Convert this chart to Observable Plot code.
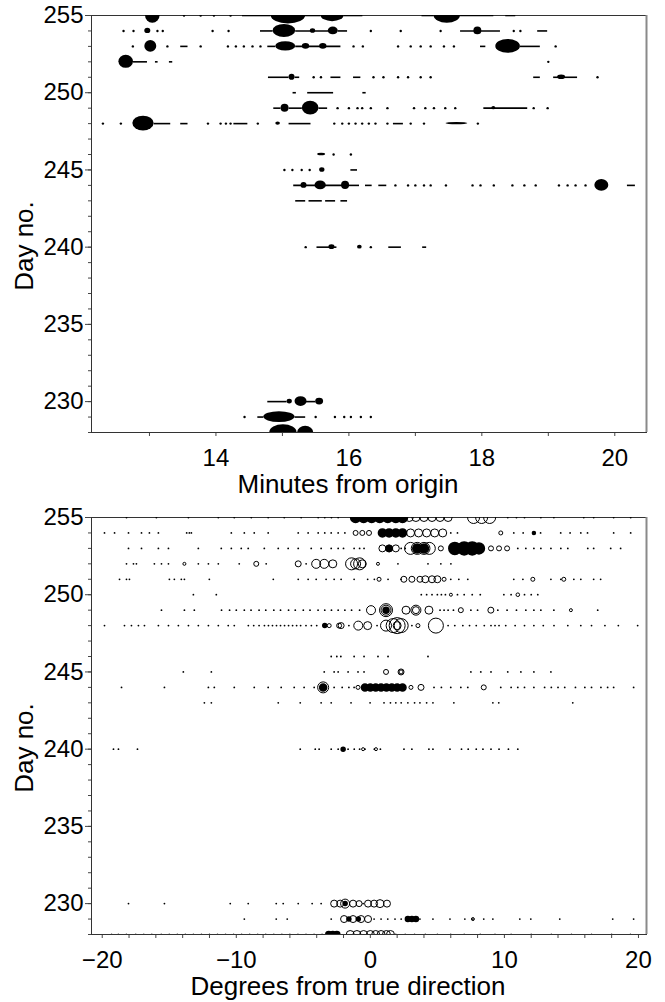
<!DOCTYPE html>
<html><head><meta charset="utf-8">
<script src="https://cdn.jsdelivr.net/npm/d3@7"></script>
<script src="https://cdn.jsdelivr.net/npm/@observablehq/plot@0.6"></script>
<style>
html,body{margin:0;padding:0;background:#fff;}
#chart svg{display:block;}
</style></head><body><div id="chart"></div>
<script>
// ---------- Top panel: Minutes from origin ----------
const topXDomain = [12.128, 20.477];
const dayDomain = [228, 255];
const topXTicks = [13, 14, 15, 16, 17, 18, 19, 20];
const dayMajorTicks = [230, 235, 240, 245, 250, 255];
const dayMinorTicks = d3.range(228, 256);

// blobs: [day, start minute, end minute, half thickness (days)]
const topBlobs = [
  [255, 12.94, 13.16, 0.5], [255, 14.83, 15.35, 0.55], [255, 15.58, 15.93, 0.4], [255, 17.28, 17.68, 0.5],
  [254, 12.93, 13.02, 0.17], [254, 14.86, 15.2, 0.42], [254, 15.42, 15.5, 0.15], [254, 15.69, 15.84, 0.25], [254, 17.88, 18.0, 0.25],
  [253, 12.93, 13.11, 0.38], [253, 14.9, 15.2, 0.3], [253, 15.3, 15.41, 0.18], [253, 15.56, 15.67, 0.18], [253, 18.21, 18.58, 0.45],
  [252, 12.54, 12.76, 0.42],
  [251, 15.1, 15.19, 0.2], [251, 19.14, 19.26, 0.15],
  [249, 14.98, 15.1, 0.26], [249, 15.3, 15.55, 0.45], [249, 18.15, 18.21, 0.1],
  [248, 12.75, 13.07, 0.48], [248, 14.9, 14.97, 0.1], [248, 17.46, 17.79, 0.08],
  [246, 15.53, 15.65, 0.08],
  [245, 15.56, 15.64, 0.15],
  [244, 15.28, 15.37, 0.19], [244, 15.49, 15.66, 0.28], [244, 15.89, 16.01, 0.26], [244, 19.7, 19.91, 0.38],
  [240, 15.7, 15.79, 0.15], [240, 16.13, 16.2, 0.12],
  [230, 15.07, 15.15, 0.16], [230, 15.19, 15.37, 0.32], [230, 15.5, 15.62, 0.22],
  [229, 14.72, 15.19, 0.35],
  [228, 14.81, 15.22, 0.5], [228, 15.23, 15.47, 0.4]
];
// tracks: [day, start minute, end minute]
const topLines = [
  [255, 14.4, 14.83], [255, 15.32, 15.58], [255, 15.93, 16.21], [255, 17.1, 17.28], [255, 17.68, 18.18], [255, 18.36, 18.51],
  [254, 14.67, 14.86], [254, 15.2, 15.7], [254, 15.84, 15.98], [254, 17.68, 18.28], [254, 18.84, 18.99],
  [253, 13.47, 13.58], [253, 14.78, 14.9], [253, 15.2, 15.88], [253, 17.98, 18.06], [253, 18.58, 18.88],
  [252, 12.76, 12.97], [252, 13.09, 13.13], [252, 13.3, 13.35],
  [251, 14.79, 15.1], [251, 15.19, 15.26], [251, 15.73, 15.88], [251, 16.07, 16.18], [251, 18.78, 18.88], [251, 19.08, 19.44],
  [250, 15.16, 15.21], [250, 15.38, 15.77], [250, 16.21, 16.26],
  [249, 14.87, 14.98], [249, 15.1, 15.3], [249, 15.55, 15.68], [249, 18.03, 18.69],
  [248, 13.07, 13.32], [248, 13.47, 13.58], [248, 14.27, 14.48], [248, 15.1, 15.43], [248, 16.67, 16.82],
  [245, 16.03, 16.13],
  [244, 15.17, 15.95], [244, 15.95, 16.16], [244, 16.25, 16.35], [244, 16.45, 16.57], [244, 20.19, 20.31],
  [243, 15.2, 15.35], [243, 15.4, 15.6], [243, 15.65, 15.8], [243, 15.88, 15.98],
  [240, 15.52, 15.82], [240, 16.6, 16.79], [240, 17.11, 17.17],
  [230, 14.78, 15.07], [230, 15.35, 15.5],
  [229, 14.63, 14.72], [229, 15.19, 15.35]
];
// single detections: [day, [minutes]]
const topDots = [
  [255, [13.52, 13.77, 13.97, 14.22]],
  [254, [12.61, 12.76, 13.12, 13.2, 13.95, 14.19, 16.33, 16.78, 17.38, 18.48, 18.58]],
  [253, [12.75, 13.27, 13.77, 14.18, 14.3, 14.42, 14.55, 14.67, 16.07, 16.21, 16.74, 16.93, 17.08, 17.23, 17.43, 17.58, 19.11]],
  [252, [19.0]],
  [251, [15.47, 15.58, 16.37, 16.52, 16.74, 16.89, 17.08, 17.23, 19.74]],
  [249, [15.83, 16.0, 16.13, 16.2, 16.33, 16.58, 16.98, 17.15, 17.28, 17.45, 17.6, 18.78, 18.99]],
  [248, [12.3, 12.57, 13.88, 14.07, 14.15, 14.22, 14.63, 15.78, 15.9, 16.0, 16.1, 16.2, 16.3, 16.4, 16.58, 16.93, 17.13, 17.94]],
  [246, [15.77, 16.03]],
  [245, [15.03, 15.15, 15.29, 15.41]],
  [244, [16.7, 16.89, 17.0, 17.13, 17.23, 17.46, 17.86, 17.98, 18.18, 18.46, 18.64, 18.81, 19.16, 19.29, 19.41, 19.56]],
  [240, [15.35, 16.33]],
  [229, [14.43, 15.5, 15.79, 15.93, 16.03, 16.18, 16.33]]
];

// ---------- Bottom panel: Degrees from true direction ----------
const botXDomain = [-20.8, 20.6];
const botXTicks = d3.range(-20, 21, 2);

// single detections: [day, [degrees]]
const botDots = [
  [255, [-18.19, -15.96, -13.57, -11.34, -10.15, -8.88, -7.62, -6.42, -5.16, -3.89, -3.4, -2.9, -2.4, 10.25, 10.9, 11.5, 12.72, 13.69, 15.92, 16.66, 18.15, 19.42]],
  [254, [-19.83, -19.08, -18.04, -17.07, -16.48, -15.81, -13.7, -13.5, -13.35, -10.37, -9.4, -8.66, -7.62, -5.38, -4.64, -3.89, -3.4, -2.92, -2.4, -1.9, 6.0, 6.5, 10.7, 11.4, 12.7, 14.2, 14.9, 15.7, 16.2, 18.15, 19.42]],
  [253, [-18.04, -17.07, -15.81, -15.06, -12.83, -11.12, -10.37, -9.63, -9.11, -7.91, -6.87, -6.13, -5.38, -4.41, -3.67, -2.92, -2.4, -2.0, -1.21, -0.8, -0.47, 2.3, 2.6, 11.0, 11.6, 12.2, 12.72, 13.47, 14.21, 14.73, 16.22, 16.66, 17.93, 18.67]],
  [252, [-18.19, -17.67, -17.45, -16.11, -15.58, -15.06, -12.83, -12.08, -11.34, -9.78, -7.77, -4.79, 2.06, 4.3, 5.26, 6.01]],
  [251, [-18.71, -18.19, -17.97, -14.99, -14.62, -14.1, -13.87, -12.01, -7.24, -5.38, -4.64, -4.04, -3.3, -2.7, -2.18, -1.21, -0.2, 0.3, 1.32, 2.29, 6.0, 6.6, 7.27, 10.7, 11.38, 13.47, 14.21, 15.18, 15.7, 16.66, 17.18]],
  [250, [-13.2, -11.49, 3.8, 4.2, 4.6, 5.0, 5.3, 5.6, 6.5, 7.0, 7.6, 8.2, 9.96, 10.5, 11.5, 12.0, 12.49]],
  [249, [-15.58, -13.87, -13.13, -11.1, -10.5, -10.0, -9.4, -8.9, -8.3, -7.8, -7.2, -6.7, -6.1, -5.6, -5.0, -4.5, -3.9, -3.4, -2.9, -2.4, -1.9, -1.4, -0.8, 5.2, 5.5, 5.8, 6.2, 7.5, 8.0, 9.51, 10.2, 10.9, 11.6, 12.2, 12.72, 13.69, 16.96]],
  [248, [-19.83, -18.34, -17.82, -17.3, -16.85, -15.81, -15.06, -14.32, -13.57, -12.83, -12.08, -11.34, -10.6, -10.15, -9.1, -8.7, -8.3, -7.9, -7.6, -7.3, -7.0, -6.7, -6.4, -6.1, -5.8, -5.5, -5.2, -4.8, -4.4, -4.0, -3.5, -1.6, 0.5, 3.1, 5.8, 6.3, 6.9, 7.4, 7.9, 8.5, 9.0, 9.3, 9.6, 10.1, 10.8, 11.5, 12.2, 12.9, 13.7, 14.73, 15.7, 16.5, 17.5, 18.5, 19.94]],
  [246, [-2.92, -2.5, -2.2, -1.21, -0.47, 0.57, 1.32, 4.3]],
  [245, [-13.95, -11.86, -3.44, -2.7, -2.4, -1.66, -0.92, -0.47, 7.5, 8.24, 9.0, 10.25, 11.23, 12.2, 13.47]],
  [244, [-18.56, -15.36, -12.08, -11.64, -10.15, -8.66, -7.62, -6.65, -5.68, -4.94, -4.19, -2.7, -2.1, -1.6, -1.21, 4.75, 5.3, 6.0, 6.75, 7.27, 9.73, 10.5, 11.0, 11.5, 12.2, 13.0, 13.5, 14.0, 14.5, 15.3, 16.0, 16.5, 17.2, 17.7, 18.15, 19.64]],
  [243, [-12.38, -11.86, -6.87, -5.23, -3.67, -2.92, -1.44, -0.02, 1.02, 1.5, 1.9, 2.3, 2.8, 3.3, 3.7, 4.2, 4.67, 6.23, 9.14, 9.58, 15.1]],
  [240, [-19.16, -18.79, -17.37, -5.23, -4.11, -3.82, -2.92, -2.4, -1.66, -1.2, -0.8, -0.4, 0.3, 0.75, 2.51, 3.1, 4.37, 4.67, 5.94, 6.8, 7.3, 7.9, 8.4, 9.0, 9.6, 10.3, 11.0]],
  [230, [-18.04, -15.36, -10.45, -9.11, -7.02, -6.5, -5.38, -4.34, -3.67, -0.54]],
  [229, [-9.4, -7.02, -6.2, -2.92, 0.28, 0.8, 1.3, 1.84, 2.3, 3.7, 4.67, 5.94, 7.05, 7.65, 8.46, 9.14, 11.15, 11.97, 14.13, 18.08, 19.64]],
  [228, [-19.3, -18.8, -18.2, -17.5, -16.9, -16.3, -15.6, -15.0, -14.4, -13.8, -13.2, -12.6, -12.0, -11.4, -10.8, -10.2, -9.6, -9.0, -8.4, -7.8, -7.2, -6.6, -6.0, -5.4, -4.8, -4.2, -3.6, 1.9, 2.6, 3.3, 4.1, 5.0, 6.0, 7.0, 8.2, 9.3, 10.5, 12.0, 13.5, 15.0, 16.5, 18.0, 19.4]]
];
// open rings: [day, [[degree, strength]]]
const botRings = [
  [255, [[2.9, 4], [3.4, 4], [4.0, 4], [4.6, 4], [5.2, 4], [5.8, 4], [7.7, 6], [8.3, 6], [8.9, 6]]],
  [254, [[-1.1, 2.5], [-0.6, 2.5], [-0.1, 2.5], [3.0, 4], [3.6, 4], [4.2, 4], [4.8, 4], [5.4, 4], [9.73, 2]]],
  [253, [[0.9, 3.5], [1.4, 3.5], [1.9, 3.5], [3.0, 6], [3.5, 6], [4.0, 6], [4.4, 6], [5.26, 2.5], [9.0, 2.5], [9.6, 2.5], [10.2, 2.5]]],
  [252, [[-13.87, 1.5], [-8.51, 2.5], [-5.38, 3], [-4.04, 4.5], [-3.44, 4.5], [-2.8, 4], [-1.4, 6], [-1.1, 5], [-0.8, 6], [-0.6, 4], [0.57, 1.5]]],
  [251, [[0.65, 2], [2.5, 3], [3.1, 3], [3.7, 3], [4.1, 3.5], [4.6, 3.5], [5.0, 3.5], [5.5, 2], [12.12, 2], [14.43, 2]]],
  [250, [[6.01, 1.5], [11.0, 1.8]]],
  [249, [[0.05, 4.5], [1.17, 6.5], [1.17, 5], [2.66, 4], [3.4, 5], [3.4, 3.5], [4.37, 4], [6.75, 2.5], [8.99, 3], [14.96, 1.5]]],
  [248, [[-3.07, 2], [-2.33, 2.5], [-2.18, 3], [-0.9, 4.5], [-0.2, 4], [1.17, 5.5], [1.7, 7], [2.0, 8], [2.3, 7], [2.0, 4], [3.55, 2], [4.89, 7.5]]],
  [245, [[1.17, 2.5], [2.29, 3], [2.29, 2]]],
  [244, [[-3.52, 5.5], [-0.92, 2], [3.03, 2], [3.78, 3], [8.46, 2.5]]],
  [240, [[-0.54, 1.5], [0.42, 1.5]]],
  [230, [[-2.7, 3.5], [-2.25, 3.5], [-1.88, 4.5], [-1.29, 3.5], [-0.84, 3], [-0.17, 3.5], [0.28, 3.5], [0.72, 4], [1.24, 3.5]]],
  [229, [[-1.96, 3.5], [-1.29, 3.5], [-0.69, 3.5], [-0.17, 3.5], [7.65, 1.5]]],
  [228, [[-1.5, 4], [-1.0, 4], [-0.5, 4], [0.0, 4], [0.4, 4], [0.8, 4], [1.2, 4], [1.5, 4]]]
];
// dense (filled) clusters: [day, [[degree, strength]]]
const botFilled = [
  [255, [[-1.1, 5], [-0.5, 5], [0.1, 5], [0.7, 5], [1.3, 5], [1.9, 5], [2.4, 5]]],
  [254, [[0.9, 4], [1.4, 4], [1.9, 4], [2.4, 4], [12.2, 1.5]]],
  [253, [[1.4, 3], [3.5, 4.5], [4.0, 4.5], [6.3, 6], [7.0, 6.5], [7.6, 6.5], [8.1, 5.5]]],
  [249, [[1.17, 3]]],
  [248, [[-3.4, 2]]],
  [244, [[-3.52, 3.5], [-0.4, 3.5], [0.0, 3.5], [0.4, 3.5], [0.8, 3.5], [1.2, 3.5], [1.6, 3.5], [2.0, 3.5], [2.4, 3.5]]],
  [240, [[-2.03, 2]]],
  [230, [[-1.88, 2]]],
  [229, [[2.8, 2.5], [3.1, 2.5], [3.4, 2.5], [-1.6, 2], [-0.9, 2]]],
  [228, [[-3.1, 3], [-2.8, 3], [-2.5, 3]]]
];

const FONT = "'Liberation Sans', Arial, sans-serif";
const flat = groups => groups.flatMap(([day, vals]) => vals.map(v => Array.isArray(v) ? [day, ...v] : [day, v]));
const fmt = d => d < 0 ? "\u2212" + (-d) : String(d);

function dayAxes() {
  return [
    Plot.axisY(dayMinorTicks, {tickSize: 3, tickFormat: () => "", stroke: "#444", label: null}),
    Plot.axisY(dayMajorTicks, {tickSize: 6, tickPadding: 2, stroke: "#444", fontSize: 24, fill: "black", label: null})
  ];
}
function frameMarks(xDomain) {
  return [
    Plot.frame({stroke: "#333"}),
    Plot.ruleX([xDomain[1]], {stroke: "#8a8a8a", strokeWidth: 2})
  ];
}
function titleMarks(xTitle) {
  return [
    Plot.text([xTitle], {frameAnchor: "bottom", dx: -21, dy: 42, lineAnchor: "top", textAnchor: "middle", fontSize: 26, fill: "black"}),
    Plot.text(["Day no."], {frameAnchor: "left", dx: -67, dy: 22, rotate: -90, textAnchor: "middle", lineAnchor: "middle", fontSize: 26, fill: "black"})
  ];
}

const topPlot = Plot.plot({
  width: 665, height: 500,
  marginTop: 15, marginBottom: 68, marginLeft: 91, marginRight: 19,
  style: {fontFamily: FONT, fontSize: "24px", color: "black", background: "white"},
  x: {domain: topXDomain},
  y: {domain: dayDomain},
  marks: [
    Plot.axisX(topXTicks, {tickSize: 4, tickPadding: 12, stroke: "#444", fontSize: 24, fill: "black", tickFormat: d => d % 2 === 0 ? fmt(d) : "", label: null}),
    ...dayAxes(),
    ...frameMarks(topXDomain),
    Plot.ruleY(topLines, {y: d => d[0], x1: d => d[1], x2: d => d[2], stroke: "black", strokeWidth: 1.6, clip: true}),
    Plot.rect(topBlobs, {x1: d => d[1], x2: d => d[2], y1: d => d[0] - d[3], y2: d => d[0] + d[3], rx: 100, ry: 100, fill: "black", clip: true}),
    Plot.dot(flat(topDots), {x: d => d[1], y: d => d[0], r: 1.2, fill: "black", stroke: null, clip: true}),
    ...titleMarks("Minutes from origin")
  ]
});

const botPlot = Plot.plot({
  width: 665, height: 502,
  marginTop: 17, marginBottom: 68, marginLeft: 91, marginRight: 19,
  style: {fontFamily: FONT, fontSize: "24px", color: "black", background: "white"},
  x: {domain: botXDomain},
  y: {domain: dayDomain},
  r: {type: "linear", domain: [0, 10], range: [0, 10]},
  marks: [
    Plot.axisX(botXTicks, {tickSize: 4, tickPadding: 12, stroke: "#444", fontSize: 24, fill: "black", tickFormat: d => d % 10 === 0 ? fmt(d) : "", label: null}),
    ...dayAxes(),
    ...frameMarks(botXDomain),
    Plot.dot(flat(botDots), {x: d => d[1], y: d => d[0], r: 0.9, fill: "black", stroke: null, clip: true}),
    Plot.dot(flat(botFilled), {x: d => d[1], y: d => d[0], r: d => d[2], fill: "black", stroke: "black", clip: true}),
    Plot.dot(flat(botRings), {x: d => d[1], y: d => d[0], r: d => d[2], fill: "none", stroke: "black", strokeWidth: 1, clip: true}),
    ...titleMarks("Degrees from true direction")
  ]
});

document.getElementById("chart").append(topPlot, botPlot);
</script>
</body></html>
